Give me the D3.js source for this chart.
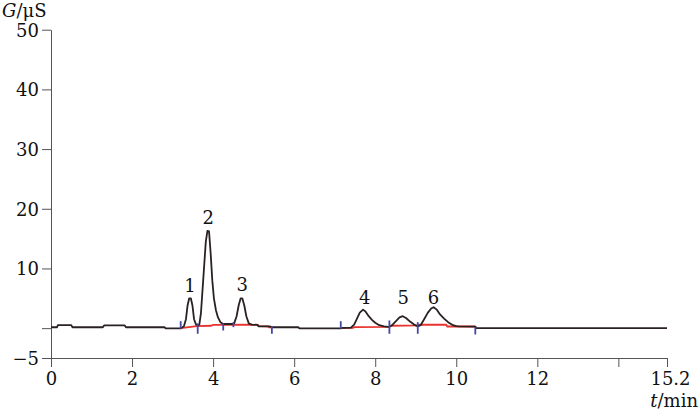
<!DOCTYPE html>
<html><head><meta charset="utf-8">
<script src="https://cdn.jsdelivr.net/npm/d3@7"></script>
<style>
html,body{margin:0;padding:0;background:#fff;}
svg{display:block;}
text{font-family:"DejaVu Serif","Liberation Serif",serif;fill:#111;}
</style></head>
<body><svg id="c" width="700" height="411"></svg>
<script>
// chromatogram trace: time (min), conductance (μS)
const traceT = [0.00,0.15,0.17,0.50,0.53,1.28,1.31,1.82,1.85,2.80,2.83,3.20,
 3.28,3.33,3.37,3.41,3.45,3.49,3.53,3.58,3.62,
 3.66,3.70,3.74,3.78,3.82,3.86,3.90,3.94,3.98,4.02,4.07,4.12,4.18,4.25,4.50,
 4.52,4.58,4.63,4.68,4.72,4.77,4.82,4.88,4.95,5.10,5.12,5.40,5.45,6.10,6.13,7.15,
 7.20,7.40,7.48,7.55,7.62,7.70,7.76,7.84,7.92,8.00,8.10,8.22,8.33,
 8.40,8.50,8.60,8.68,8.76,8.86,8.96,9.05,
 9.12,9.20,9.30,9.38,9.44,9.52,9.60,9.70,9.80,9.90,10.00,10.05,10.47,10.50,15.20];
const traceG = [0.15,0.15,0.50,0.50,0.15,0.15,0.45,0.45,0.15,0.15,-0.05,-0.05,
 0.3,1.5,3.8,5.0,5.0,3.8,1.5,0.6,0.5,
 0.6,2.5,6.5,10.5,14.5,16.3,16.2,12.5,8.0,5.0,3.0,1.8,1.0,0.7,0.7,
 0.8,2.0,3.8,5.0,5.0,3.8,2.0,0.8,0.6,0.55,0.3,0.3,0.15,0.15,-0.05,-0.05,
 0.05,0.1,0.6,1.6,2.6,3.1,2.8,2.0,1.4,0.9,0.5,0.3,0.2,
 0.4,1.1,1.8,2.0,1.7,1.1,0.6,0.3,
 0.5,1.4,2.6,3.3,3.5,3.1,2.3,1.6,1.0,0.55,0.35,0.3,0.25,0.0,0.0];

// integration baselines (red)
const baseAT = [3.20,3.60,3.95,4.00,4.90,5.10,5.12,5.35,5.38,5.45];
const baseAG = [0.00,0.33,0.40,0.55,0.60,0.55,0.35,0.30,0.12,0.12];
const baseBT = [7.20,7.45,7.48,8.35,8.38,9.05,9.10,9.75,9.78,10.47];
const baseBG = [0.00,0.05,0.17,0.23,0.40,0.45,0.57,0.57,0.28,0.28];

// integration markers (blue): time, top and bottom value
const markT   = [3.20,3.62,4.25,4.50,5.45,7.15,8.35,9.05,10.47];
const markTop = [1.17,0.79,0.79,1.00,0.28,1.17,1.29,1.00,0.17];
const markBot = [-0.10,-0.94,-0.39,0.17,-0.94,-0.10,-0.94,-0.94,-1.06];

// peak labels
const peakNames = ["1","2","3","4","5","6"];
const peakT     = [3.43,3.88,4.72,7.74,8.69,9.44];
const peakLabelG= [6.1,17.5,6.2,4.1,4.1,4.1];

// axes
const xTickValues = [0,2,4,6,8,10,12,14,15.2];
const xTickLabels = ["0","2","4","6","8","10","12","","15.2"];
const yTickValues = [-5,0,10,20,30,40,50];
const yTickLabels = ["\u22125","","10","20","30","40","50"];

const svg = d3.select("#c");
const x = d3.scaleLinear().domain([0,15.2]).range([51,667]);
const y = d3.scaleLinear().domain([-5,50]).range([358,29.7]);

const axisColor = "#555";
const FONT = "DejaVu Serif, Liberation Serif, serif";
const xAxis = d3.axisBottom(x).tickValues(xTickValues)
  .tickFormat((d,i)=>xTickLabels[i]).tickSize(9).tickPadding(4).tickSizeOuter(0);
const gx = svg.append("g").attr("transform","translate(0,358)").call(xAxis);
const yAxis = d3.axisLeft(y).tickValues(yTickValues)
  .tickFormat((d,i)=>yTickLabels[i]).tickSize(9).tickPadding(3).tickSizeOuter(0);
const gy = svg.append("g").attr("transform","translate(51,0)").call(yAxis);
[gx,gy].forEach(g=>{
  g.selectAll("path,line").attr("stroke",axisColor).attr("stroke-width",1);
  g.selectAll("text").attr("font-size",18).attr("font-family",FONT).attr("fill","#111");
});
gx.selectAll("text").attr("y",27).attr("dy",0);
gx.selectAll("text").filter((d)=>d===15.2).attr("dx",3);
gy.selectAll("text").attr("dy","0.36em");

const line = d3.line().x(d=>x(d[0])).y(d=>y(d[1]));

// red baselines
[[baseAT,baseAG],[baseBT,baseBG]].forEach(([ts,gs])=>{
  svg.append("path").datum(ts.map((t,i)=>[t,gs[i]]))
    .attr("d",line).attr("fill","none").attr("stroke","#e8322d").attr("stroke-width",1.8);
});

// trace
svg.append("path").datum(traceT.map((t,i)=>[t,traceG[i]]))
  .attr("d",line).attr("fill","none").attr("stroke","#2a2222")
  .attr("stroke-width",1.8).attr("stroke-linejoin","round");

// markers
svg.selectAll("line.mk").data(markT).enter().append("line").attr("class","mk")
  .attr("x1",d=>x(d)).attr("x2",d=>x(d))
  .attr("y1",(d,i)=>y(markTop[i])).attr("y2",(d,i)=>y(markBot[i]))
  .attr("stroke","#4646a6").attr("stroke-width",1.8);

// peak labels
svg.selectAll("text.pk").data(peakNames).enter().append("text").attr("class","pk")
  .attr("x",(d,i)=>x(peakT[i])).attr("y",(d,i)=>y(peakLabelG[i]))
  .attr("text-anchor","middle").attr("font-size",18).text(d=>d);

// axis titles
const yt = svg.append("text").attr("x",2).attr("y",17).attr("font-size",18);
yt.append("tspan").attr("font-style","italic").text("G");
yt.append("tspan").text("/\u03bcS");
const xt = svg.append("text").attr("x",698).attr("y",407).attr("font-size",18).attr("text-anchor","end");
xt.append("tspan").attr("font-style","italic").text("t");
xt.append("tspan").text("/min");
</script></body></html>
